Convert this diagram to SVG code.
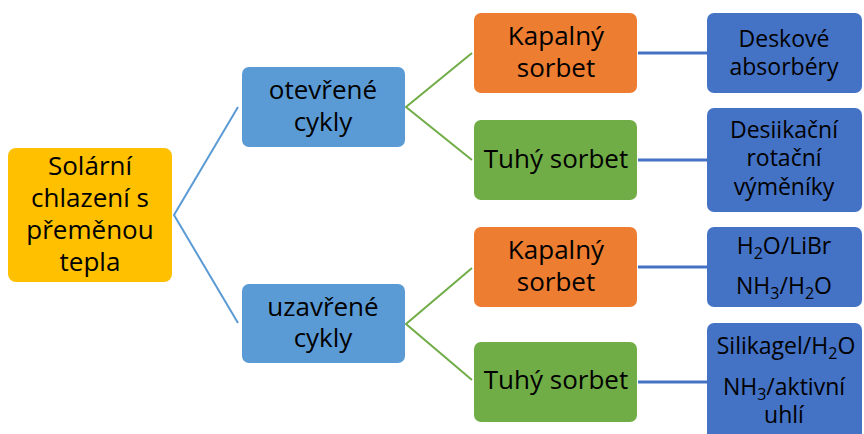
<svg xmlns="http://www.w3.org/2000/svg" width="864" height="434" viewBox="0 0 864 434">
<style>
text{font-family:"Open Sans","Noto Sans","DejaVu Sans",sans-serif;fill:#000;text-anchor:middle}
.big{font-size:26px}
.sm{font-size:23px}
.sub{font-size:16px}
.c1{stroke:#5B9BD5;stroke-width:2;fill:none}
.c2{stroke:#70AD47;stroke-width:2;fill:none}
.c3{stroke:#4472C4;stroke-width:3;fill:none}
</style>
<rect width="864" height="434" fill="#fff"/>
<g id="connectors">
<polyline class="c1" points="238,107 174,215 238,323"/>
<polyline class="c2" points="472,53 406,107 472,160"/>
<polyline class="c2" points="472,268 406,324 472,380"/>
<line class="c3" x1="638" y1="53" x2="707" y2="53"/>
<line class="c3" x1="638" y1="160" x2="707" y2="160"/>
<line class="c3" x1="638" y1="267" x2="707" y2="267"/>
<line class="c3" x1="638" y1="382" x2="707" y2="382"/>
</g>
<g id="root">
<rect x="8" y="148" width="164" height="134" rx="8" fill="#FFC000"/>
<text class="big" x="90" y="175">Solární</text>
<text class="big" x="90" y="207">chlazení s</text>
<text class="big" x="90" y="239">přeměnou</text>
<text class="big" x="90" y="271">tepla</text>
</g>
<g id="open">
<rect x="242" y="67" width="163" height="80" rx="7" fill="#5B9BD5"/>
<text class="big" x="323" y="99">otevřené</text>
<text class="big" x="323" y="131">cykly</text>
</g>
<g id="closed">
<rect x="242" y="284" width="163" height="79" rx="7" fill="#5B9BD5"/>
<text class="big" x="323" y="316">uzavřené</text>
<text class="big" x="323" y="347">cykly</text>
</g>
<g id="liquid1">
<rect x="474" y="13" width="163" height="80" rx="7" fill="#ED7D31"/>
<text class="big" x="556" y="45">Kapalný</text>
<text class="big" x="556" y="77">sorbet</text>
</g>
<g id="solid1">
<rect x="474" y="120" width="163" height="80" rx="7" fill="#70AD47"/>
<text class="big" x="556" y="168">Tuhý sorbet</text>
</g>
<g id="liquid2">
<rect x="474" y="227" width="163" height="80" rx="7" fill="#ED7D31"/>
<text class="big" x="556" y="259">Kapalný</text>
<text class="big" x="556" y="291">sorbet</text>
</g>
<g id="solid2">
<rect x="474" y="342" width="163" height="80" rx="7" fill="#70AD47"/>
<text class="big" x="556" y="389">Tuhý sorbet</text>
</g>
<g id="desk">
<rect x="707" y="13" width="155" height="80" rx="7" fill="#4472C4"/>
<text class="sm" x="784" y="47">Deskové</text>
<text class="sm" x="784" y="75">absorbéry</text>
</g>
<g id="desiccant">
<rect x="707" y="108" width="155" height="104" rx="7" fill="#4472C4"/>
<text class="sm" x="784" y="138">Desiikační</text>
<text class="sm" x="784" y="166">rotační</text>
<text class="sm" x="784" y="195">výměníky</text>
</g>
<g id="liquidpairs">
<rect x="707" y="227" width="155" height="80" rx="7" fill="#4472C4"/>
<text class="sm" x="784" y="254">H<tspan class="sub" dy="5">2</tspan><tspan dy="-5">O/LiBr</tspan></text>
<text class="sm" x="784" y="294">NH<tspan class="sub" dy="5">3</tspan><tspan dy="-5">/H</tspan><tspan class="sub" dy="5">2</tspan><tspan dy="-5">O</tspan></text>
</g>
<g id="solidpairs">
<rect x="707" y="323" width="155" height="125" rx="7" fill="#4472C4"/>
<text class="sm" x="786" y="354">Silikagel/H<tspan class="sub" dy="5">2</tspan><tspan dy="-5">O</tspan></text>
<text class="sm" x="784" y="395">NH<tspan class="sub" dy="5">3</tspan><tspan dy="-5">/aktivní</tspan></text>
<text class="sm" x="784" y="423">uhlí</text>
</g>
</svg>
